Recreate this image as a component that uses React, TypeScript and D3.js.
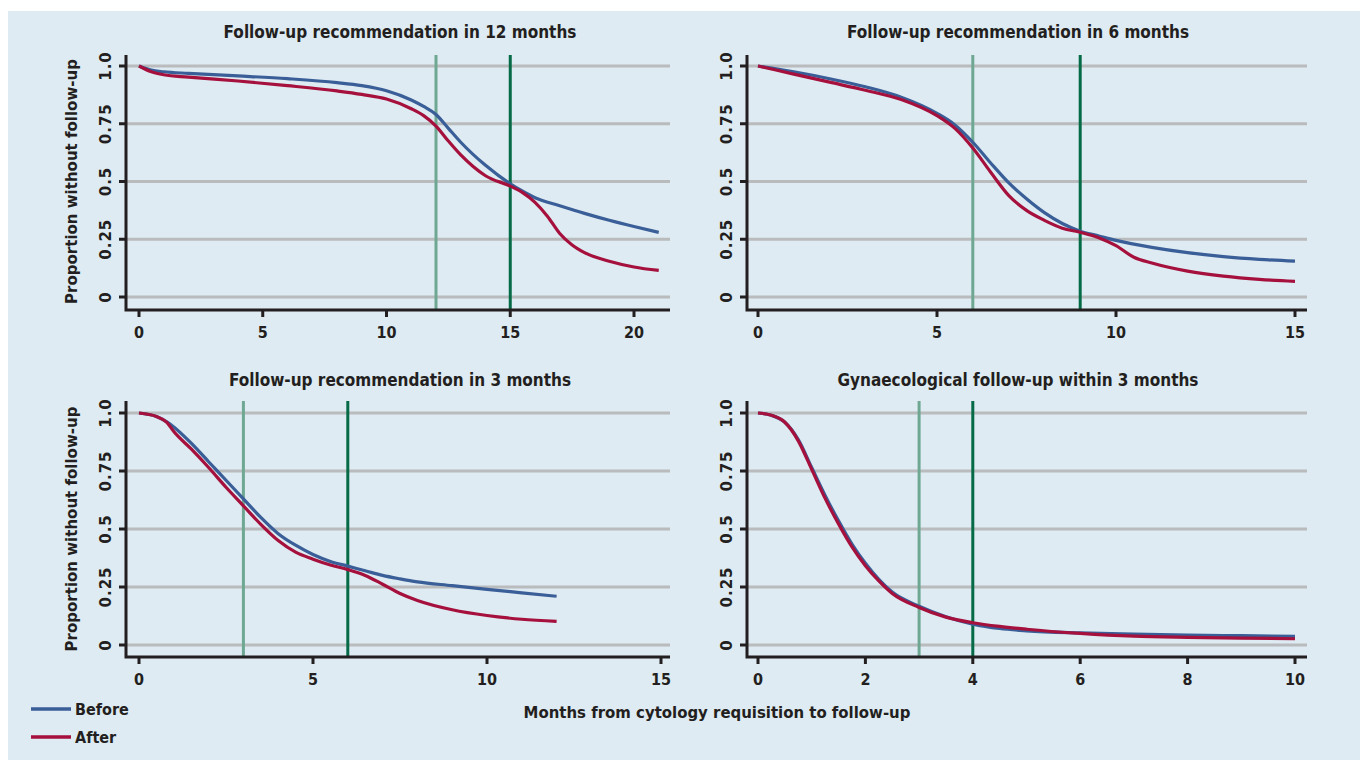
import React from "react";
import * as d3 from "d3";

// ---------- data ----------
const seriesNames = ["Before", "After"];
const panelTitles = [
  "Follow-up recommendation in 12 months",
  "Follow-up recommendation in 6 months",
  "Follow-up recommendation in 3 months",
  "Gynaecological follow-up within 3 months",
];
const yTicks = [0, 0.25, 0.5, 0.75, 1.0];
const yTickLabels = ["0", "0.25", "0.5", "0.75", "1.0"];
const xTicks12 = [0, 5, 10, 15, 20];
const xTicks6 = [0, 5, 10, 15];
const xTicks3 = [0, 5, 10, 15];
const xTicksGyn = [0, 2, 4, 6, 8, 10];
const refLines12 = [12, 15];
const refLines6 = [6, 9];
const refLines3 = [3, 6];
const refLinesGyn = [3, 4];

type Pt = [number, number];
const before12: Pt[] = [[0,1.0],[0.5,0.982],[1,0.975],[2,0.968],[4,0.957],[6,0.945],[8,0.928],[9,0.915],[10,0.893],[11,0.853],[11.5,0.825],[12,0.79],[12.5,0.73],[13,0.67],[14,0.57],[15,0.49],[15.5,0.458],[16,0.43],[17,0.395],[18,0.362],[19,0.332],[20,0.305],[21,0.28]];
const after12: Pt[] = [[0,1.0],[0.5,0.975],[1,0.962],[2,0.952],[4,0.935],[6,0.915],[8,0.892],[9,0.877],[10,0.857],[11,0.815],[11.5,0.785],[12,0.74],[12.5,0.675],[13,0.615],[13.5,0.565],[14,0.525],[15,0.48],[15.5,0.452],[16,0.41],[16.5,0.35],[17,0.275],[17.5,0.225],[18,0.192],[19,0.155],[20,0.13],[21,0.115]];
const before6: Pt[] = [[0,1],[1,0.975],[2,0.945],[3,0.91],[4,0.865],[5,0.795],[5.5,0.745],[6,0.67],[6.5,0.58],[7,0.495],[7.5,0.425],[8,0.365],[8.5,0.318],[9,0.285],[9.5,0.265],[10,0.245],[11,0.215],[12,0.192],[13,0.175],[14,0.163],[15,0.155]];
const after6: Pt[] = [[0,1],[1,0.965],[2,0.93],[3,0.895],[4,0.855],[5,0.785],[5.5,0.73],[6,0.645],[6.5,0.54],[7,0.44],[7.5,0.375],[8,0.332],[8.5,0.298],[9,0.28],[9.5,0.258],[10,0.222],[10.5,0.172],[11,0.147],[12,0.112],[13,0.09],[14,0.076],[15,0.068]];
const before3: Pt[] = [[0,1],[0.5,0.985],[0.8,0.962],[1,0.94],[1.5,0.87],[2,0.79],[2.5,0.71],[3,0.63],[3.5,0.55],[4,0.48],[4.5,0.43],[5,0.39],[5.5,0.36],[6,0.34],[6.5,0.32],[7,0.3],[7.5,0.285],[8,0.272],[9,0.256],[10,0.24],[11,0.225],[12,0.21]];
const after3: Pt[] = [[0,1],[0.5,0.985],[0.8,0.96],[1,0.92],[1.5,0.845],[2,0.765],[2.5,0.68],[3,0.6],[3.5,0.52],[4,0.45],[4.5,0.4],[5,0.37],[5.5,0.345],[6,0.325],[6.5,0.3],[7,0.262],[7.5,0.222],[8,0.192],[9,0.152],[10,0.127],[11,0.111],[12,0.102]];
const beforeGyn: Pt[] = [[0,1],[0.25,0.99],[0.5,0.96],[0.75,0.885],[1,0.765],[1.25,0.645],[1.5,0.535],[1.75,0.435],[2,0.352],[2.25,0.283],[2.5,0.228],[3,0.167],[3.5,0.122],[4,0.09],[4.5,0.071],[5,0.061],[6,0.052],[7,0.047],[8,0.043],[9,0.04],[10,0.037]];
const afterGyn: Pt[] = [[0,1],[0.25,0.99],[0.5,0.96],[0.75,0.88],[1,0.757],[1.25,0.632],[1.5,0.522],[1.75,0.423],[2,0.342],[2.25,0.276],[2.5,0.222],[3,0.162],[3.5,0.12],[4,0.096],[4.5,0.08],[5,0.068],[6,0.05],[7,0.038],[8,0.033],[9,0.03],[10,0.027]];

// ---------- style ----------
const BG = "#deebf2";
const GRID = "#b9bbbd";
const AXIS = "#231f20";
const BLUE = "#3a5e97";
const RED = "#a5103d";
const LGREEN = "#6ea892";
const DGREEN = "#056b47";
const TITLE_FONT = "'DejaVu Sans Condensed', 'DejaVu Sans', sans-serif";
const TICK_FONT = "'DejaVu Sans', sans-serif";

type PanelDef = {
  title: string;
  xDomain: [number, number];
  xRange: [number, number];
  axisX: [number, number];
  yRange: [number, number];
  axisY: [number, number];
  xTicks: number[];
  refs: number[];
  before: Pt[];
  after: Pt[];
  yLabel: boolean;
  titleX: number;
  titleY: number;
};

const panels: PanelDef[] = [
  { title: panelTitles[0], xDomain: [0, 20], xRange: [139, 634], axisX: [126, 670], yRange: [297, 66], axisY: [55, 310], xTicks: xTicks12, refs: refLines12, before: before12, after: after12, yLabel: true, titleX: 400, titleY: 38 },
  { title: panelTitles[1], xDomain: [0, 15], xRange: [758, 1295], axisX: [747, 1307], yRange: [297, 66], axisY: [55, 310], xTicks: xTicks6, refs: refLines6, before: before6, after: after6, yLabel: false, titleX: 1018, titleY: 38 },
  { title: panelTitles[2], xDomain: [0, 15], xRange: [139, 661], axisX: [126, 670], yRange: [645, 413], axisY: [401, 657], xTicks: xTicks3, refs: refLines3, before: before3, after: after3, yLabel: true, titleX: 400, titleY: 386 },
  { title: panelTitles[3], xDomain: [0, 10], xRange: [758, 1295], axisX: [747, 1307], yRange: [645, 413], axisY: [401, 657], xTicks: xTicksGyn, refs: refLinesGyn, before: beforeGyn, after: afterGyn, yLabel: false, titleX: 1018, titleY: 386 },
];

function Panel({ p }: { p: PanelDef }) {
  const x = d3.scaleLinear().domain(p.xDomain).range(p.xRange);
  const y = d3.scaleLinear().domain([0, 1]).range(p.yRange);
  const line = d3
    .line<Pt>()
    .x((d) => x(d[0]))
    .y((d) => y(d[1]))
    .curve(d3.curveMonotoneX);
  const [ax0, ax1] = p.axisX;
  const [ay0, ay1] = p.axisY;
  const yMid = (y(0) + y(1)) / 2;
  return (
    <g>
      <text x={p.titleX} y={p.titleY} textAnchor="middle" fontFamily={TITLE_FONT} fontWeight="bold" fontSize={17} fill={AXIS}>
        {p.title}
      </text>
      {yTicks.map((t) => (
        <line key={"g" + t} x1={ax0} x2={ax1} y1={y(t)} y2={y(t)} stroke={GRID} strokeWidth={3} />
      ))}
      {p.refs.map((r, i) => (
        <line key={"r" + r} x1={x(r)} x2={x(r)} y1={ay0} y2={ay1} stroke={i === 0 ? LGREEN : DGREEN} strokeWidth={3} />
      ))}
      <path d={line(p.before) || ""} fill="none" stroke={BLUE} strokeWidth={3.2} strokeLinejoin="round" />
      <path d={line(p.after) || ""} fill="none" stroke={RED} strokeWidth={3.2} strokeLinejoin="round" />
      <path d={`M${ax0},${ay0}V${ay1}H${ax1}`} fill="none" stroke={AXIS} strokeWidth={3} />
      {yTicks.map((t, i) => (
        <g key={"yt" + t}>
          <line x1={ax0 - 7} x2={ax0} y1={y(t)} y2={y(t)} stroke={AXIS} strokeWidth={3} />
          <text
            transform={`translate(${ax0 - 15},${y(t)}) rotate(-90)`}
            textAnchor="middle"
            fontFamily={TICK_FONT}
            fontWeight="bold"
            fontSize={15}
            letterSpacing={1}
            fill={AXIS}
          >
            {yTickLabels[i]}
          </text>
        </g>
      ))}
      {p.xTicks.map((t) => (
        <g key={"xt" + t}>
          <line x1={x(t)} x2={x(t)} y1={ay1} y2={ay1 + 7} stroke={AXIS} strokeWidth={3} />
          <text x={x(t)} y={ay1 + 28} textAnchor="middle" fontFamily={TITLE_FONT} fontWeight="bold" fontSize={16} fill={AXIS}>
            {t}
          </text>
        </g>
      ))}
      {p.yLabel && (
        <text
          transform={`translate(77,${yMid}) rotate(-90)`}
          textAnchor="middle"
          fontFamily={TICK_FONT}
          fontWeight="bold"
          fontSize={15}
          fill={AXIS}
        >
          Proportion without follow-up
        </text>
      )}
    </g>
  );
}

export default function App() {
  const legendColors = [BLUE, RED];
  return (
    <svg width={1360} height={760} style={{ position: "absolute", left: 0, top: 0 }}>
      <rect x={8} y={11} width={1352} height={749} fill={BG} />
      {panels.map((p, i) => (
        <Panel key={i} p={p} />
      ))}
      <text x={717} y={718} textAnchor="middle" fontFamily={TITLE_FONT} fontWeight="bold" fontSize={16.6} fill={AXIS}>
        Months from cytology requisition to follow-up
      </text>
      {seriesNames.map((s, i) => (
        <g key={s}>
          <line x1={31} x2={71} y1={709 + i * 28} y2={709 + i * 28} stroke={legendColors[i]} strokeWidth={3.5} />
          <text x={75} y={715 + i * 28} fontFamily={TITLE_FONT} fontWeight="bold" fontSize={16} fill={AXIS}>
            {s}
          </text>
        </g>
      ))}
    </svg>
  );
}
